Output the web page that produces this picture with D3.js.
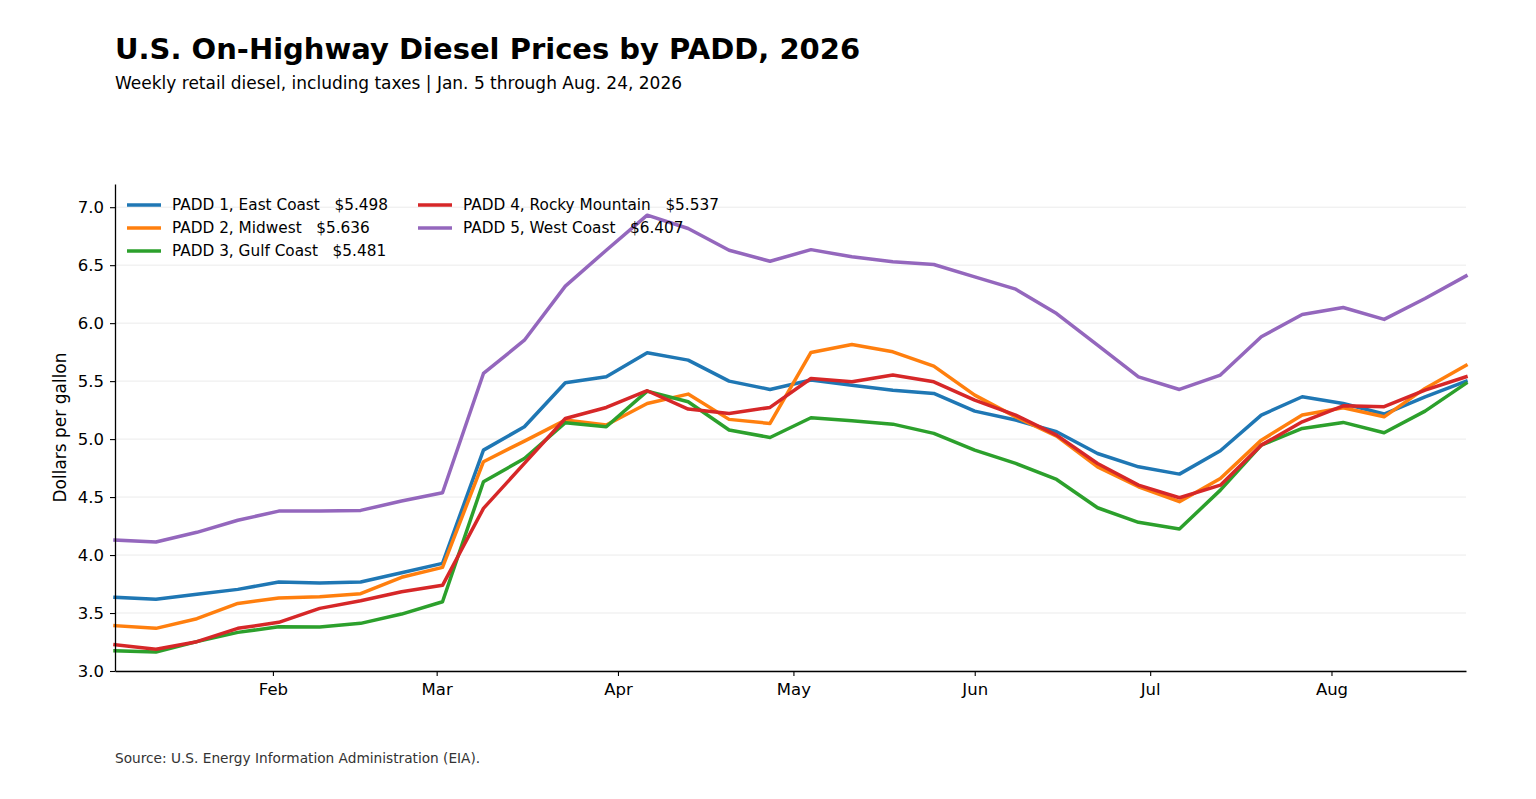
<!DOCTYPE html>
<html>
<head>
<meta charset="utf-8">
<script src="https://cdn.jsdelivr.net/npm/d3@7"></script>
<style>
  body { margin: 0; background: #fff; }
  svg { font-family: "DejaVu Sans", sans-serif; }
</style>
</head>
<body>
<script>
// Weekly dates, Jan 5 through Aug 24, 2026
const weekStart = "2026-01-05";
const weekCount = 34;

const padd1 = [3.635, 3.618, 3.661, 3.704, 3.767, 3.759, 3.767, 3.848, 3.928, 4.905, 5.106, 5.486, 5.537, 5.744, 5.681, 5.500, 5.428, 5.509, 5.465, 5.422, 5.394, 5.241, 5.164, 5.063, 4.876, 4.761, 4.698, 4.899, 5.207, 5.365, 5.307, 5.216, 5.365, 5.498];
const padd2 = [3.391, 3.368, 3.451, 3.583, 3.629, 3.641, 3.667, 3.808, 3.894, 4.805, 4.983, 5.164, 5.121, 5.307, 5.388, 5.170, 5.135, 5.747, 5.816, 5.753, 5.629, 5.379, 5.192, 5.026, 4.761, 4.589, 4.460, 4.660, 4.991, 5.207, 5.270, 5.192, 5.437, 5.636];
const padd3 = [3.175, 3.164, 3.253, 3.333, 3.382, 3.379, 3.411, 3.491, 3.597, 4.632, 4.833, 5.141, 5.106, 5.414, 5.322, 5.078, 5.014, 5.184, 5.158, 5.129, 5.049, 4.905, 4.790, 4.652, 4.408, 4.282, 4.224, 4.560, 4.948, 5.092, 5.144, 5.055, 5.241, 5.481];
const padd4 = [3.227, 3.187, 3.253, 3.368, 3.420, 3.540, 3.606, 3.684, 3.739, 4.402, 4.790, 5.178, 5.273, 5.417, 5.259, 5.221, 5.273, 5.523, 5.494, 5.552, 5.494, 5.336, 5.207, 5.034, 4.790, 4.603, 4.494, 4.603, 4.948, 5.149, 5.287, 5.279, 5.422, 5.537];
const padd5 = [4.129, 4.112, 4.196, 4.300, 4.379, 4.379, 4.385, 4.466, 4.537, 5.566, 5.853, 6.319, 6.629, 6.931, 6.816, 6.629, 6.534, 6.634, 6.572, 6.529, 6.506, 6.399, 6.293, 6.083, 5.810, 5.537, 5.428, 5.552, 5.882, 6.075, 6.135, 6.032, 6.213, 6.407];

const seriesNames = ["PADD 1, East Coast", "PADD 2, Midwest", "PADD 3, Gulf Coast", "PADD 4, Rocky Mountain", "PADD 5, West Coast"];
const seriesColors = ["#1f77b4", "#ff7f0e", "#2ca02c", "#d62728", "#9467bd"];
const yTicks = [3.0, 3.5, 4.0, 4.5, 5.0, 5.5, 6.0, 6.5, 7.0];
const monthTicks = ["2026-02-01", "2026-03-01", "2026-04-01", "2026-05-01", "2026-06-01", "2026-07-01", "2026-08-01"];

const parse = d3.utcParse("%Y-%m-%d");
const dates = d3.range(weekCount).map(i => d3.utcDay.offset(parse(weekStart), i * 7));

const series = [padd1, padd2, padd3, padd4, padd5].map((vals, i) => ({
    name: seriesNames[i],
    color: seriesColors[i],
    values: vals.map((v, j) => ({ date: dates[j], value: v }))
}));

const width = 1536, height = 799;
const margin = { top: 184, right: 70, bottom: 128, left: 115 };

const svg = d3.select("body").append("svg")
    .attr("width", width)
    .attr("height", height);

const x = d3.scaleUtc()
    .domain([dates[0], dates[dates.length - 1]])
    .range([margin.left, width - margin.right]);

const y = d3.scaleLinear()
    .domain([3.0, 7.2])
    .range([height - margin.bottom, margin.top]);

// Grid lines
svg.append("g")
    .selectAll("line")
    .data(yTicks)
    .join("line")
    .attr("x1", margin.left)
    .attr("x2", width - margin.right)
    .attr("y1", d => y(d))
    .attr("y2", d => y(d))
    .attr("stroke", "#ebebeb")
    .attr("stroke-width", 1);

// Lines
const line = d3.line()
    .x(d => x(d.date))
    .y(d => y(d.value));

svg.append("g")
    .selectAll("path")
    .data(series)
    .join("path")
    .attr("d", d => line(d.values))
    .attr("fill", "none")
    .attr("stroke", d => d.color)
    .attr("stroke-width", 3.5)
    .attr("stroke-linejoin", "round")
    .attr("stroke-linecap", "square");

// Axes
const xAxis = svg.append("g")
    .attr("transform", `translate(0,${height - margin.bottom})`)
    .call(d3.axisBottom(x)
        .tickValues(monthTicks.map(parse))
        .tickFormat(d3.utcFormat("%b"))
        .tickSize(5)
        .tickPadding(7)
        .tickSizeOuter(0));

const yAxis = svg.append("g")
    .attr("transform", `translate(${margin.left},0)`)
    .call(d3.axisLeft(y)
        .tickValues(yTicks)
        .tickFormat(d3.format(".1f"))
        .tickSize(5)
        .tickPadding(6)
        .tickSizeOuter(0));

[xAxis, yAxis].forEach(g => {
    g.select(".domain").attr("stroke", "#000").attr("stroke-width", 1.3);
    g.selectAll(".tick line").attr("stroke", "#000").attr("stroke-width", 1.1);
    g.selectAll(".tick text")
        .attr("fill", "#000")
        .style("font-size", "16.5px")
        .style("font-family", "DejaVu Sans");
});

// Y label
svg.append("text")
    .attr("transform", `translate(66,${(margin.top + height - margin.bottom) / 2}) rotate(-90)`)
    .attr("text-anchor", "middle")
    .style("font-size", "17px")
    .text("Dollars per gallon");

// Legend
const legend = svg.append("g");
const legendItems = legend.selectAll("g")
    .data(series)
    .join("g")
    .attr("transform", (d, i) => {
        const col = i < 3 ? 0 : 1;
        const row = i < 3 ? i : i - 3;
        return `translate(${127 + col * 291},${205 + row * 23})`;
    });

legendItems.append("line")
    .attr("x1", 0)
    .attr("x2", 34)
    .attr("stroke", d => d.color)
    .attr("stroke-width", 3.5);

legendItems.append("text")
    .attr("x", 45)
    .attr("dy", "0.35em")
    .style("font-size", "15.3px")
    .style("white-space", "pre")
    .attr("xml:space", "preserve")
    .text(d => `${d.name}   $${d3.format(".3f")(d.values[d.values.length - 1].value)}`);

// Title and subtitle
svg.append("text")
    .attr("x", 115)
    .attr("y", 59)
    .style("font-size", "29px")
    .style("font-weight", "bold")
    .text("U.S. On-Highway Diesel Prices by PADD, 2026");

svg.append("text")
    .attr("x", 115)
    .attr("y", 89)
    .style("font-size", "17px")
    .text("Weekly retail diesel, including taxes | Jan. 5 through Aug. 24, 2026");

// Source
svg.append("text")
    .attr("x", 115)
    .attr("y", 763)
    .attr("fill", "#333")
    .style("font-size", "13.7px")
    .text("Source: U.S. Energy Information Administration (EIA).");
</script>
</body>
</html>
